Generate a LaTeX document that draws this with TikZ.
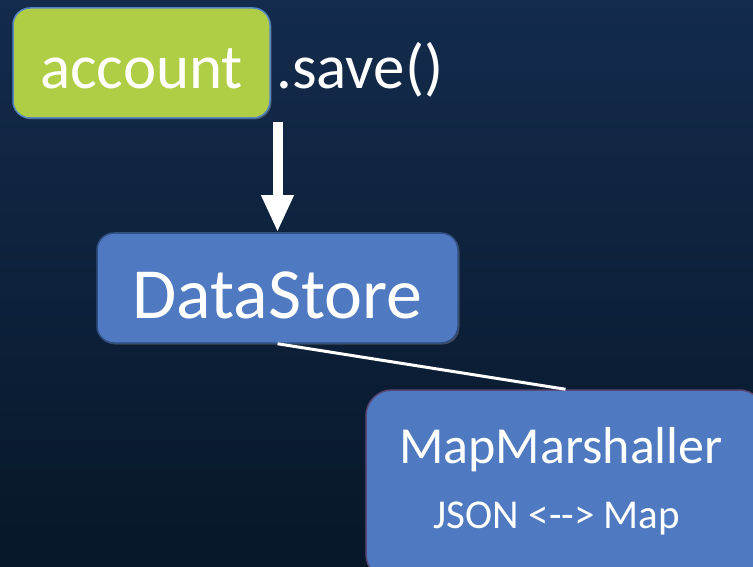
\documentclass[tikz,border=0pt]{standalone}
\usepackage{fontspec}
\setmainfont{Carlito}
\usetikzlibrary{arrows.meta,shadows,positioning}

\definecolor{bgtop}{RGB}{19,43,76}
\definecolor{bgbottom}{RGB}{7,23,41}
\definecolor{accgreen}{RGB}{176,206,69}
\definecolor{accedge}{RGB}{84,134,196}
\definecolor{boxblue}{RGB}{79,121,192}
\definecolor{boxedge}{RGB}{48,80,130}
\definecolor{marshedge}{RGB}{88,72,118}

\tikzset{every picture/.style={line width=0.75pt}}
\tikzset{
  roundbox/.style={rectangle, rounded corners=17pt, line width=1.5pt, text=white, inner sep=0pt,
    drop shadow={shadow xshift=1.5pt, shadow yshift=-1.5pt, opacity=0.45}},
  whiteline/.style={draw=white, line width=3pt}
}

\begin{document}
\begin{tikzpicture}[x=1pt,y=1pt,yscale=-1,xscale=1]
	% background
	\useasboundingbox (0,0) rectangle (753,567);
	\shade[top color=bgtop, bottom color=bgbottom] (0,0) rectangle (753,567);
	\clip (0,0) rectangle (753,567);

	% account box
	\node[roundbox, fill=accgreen, draw=accedge, minimum width=257pt, minimum height=110pt,
	  font=\fontsize{63}{70}\selectfont, text height=52pt, text depth=0pt] (account) at (141.5,63) {account};
	% Text Node
	\node[anchor=base west, inner sep=0pt, text=white, font=\fontsize{63}{70}\selectfont,
	  xshift=5pt] (save) at (account.base east) {.save()};

	% DataStore box
	\node[roundbox, fill=boxblue, draw=boxedge, minimum width=361pt, minimum height=110pt,
	  font=\fontsize{72}{80}\selectfont, text height=60pt, text depth=0pt] (datastore) at (277.5,288) {DataStore};

	% MapMarshaller box
	\node[roundbox, rounded corners=26pt, fill=boxblue, draw=marshedge, minimum width=399pt, minimum height=190pt] (marshaller) at (565.5,485) {};
	% Text Node
	\node[anchor=base, inner sep=0pt, text=white, font=\fontsize{52}{60}\selectfont] (marshname) at (561,463) {MapMarshaller};
	% Text Node
	\node[anchor=base, inner sep=0pt, text=white, font=\fontsize{41}{48}\selectfont] (marshnote) at (557,528) {JSON <-{}-> Map};

	% call arrow
	\coordinate (callstart) at ([yshift=3pt]datastore.north |- account.south);
	\draw[draw=white, line width=10pt, -{Triangle[width=30pt,length=37pt]}] (callstart) -- (datastore.north);

	% link to marshaller
	\draw[whiteline] (datastore.south) -- (marshaller.north);

\end{tikzpicture}
\end{document}
